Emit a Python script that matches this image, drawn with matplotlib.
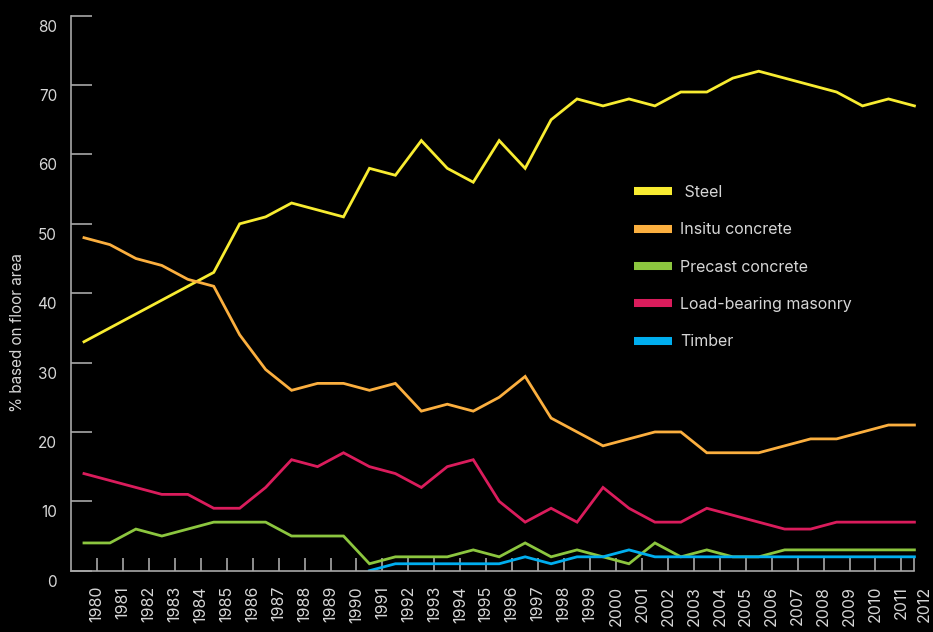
import matplotlib

matplotlib.use("Agg")
import matplotlib.pyplot as plt
import numpy as np
from matplotlib.lines import Line2D
from matplotlib.transforms import ScaledTranslation

years = list(range(1980, 2013))

steel = [33, 35, 37, 39, 41, 43, 50, 51, 53, 52, 51, 58, 57, 62, 58, 56, 62, 58,
         65, 68, 67, 68, 67, 69, 69, 71, 72, 71, 70, 69, 67, 68, 67]
insitu = [48, 47, 45, 44, 42, 41, 34, 29, 26, 27, 27, 26, 27, 23, 24, 23, 25, 28,
          22, 20, 18, 19, 20, 20, 17, 17, 17, 18, 19, 19, 20, 21, 21]
precast = [4, 4, 6, 5, 6, 7, 7, 7, 5, 5, 5, 1, 2, 2, 2, 3, 2, 4,
           2, 3, 2, 1, 4, 2, 3, 2, 2, 3, 3, 3, 3, 3, 3]
masonry = [14, 13, 12, 11, 11, 9, 9, 12, 16, 15, 17, 15, 14, 12, 15, 16, 10, 7,
           9, 7, 12, 9, 7, 7, 9, 8, 7, 6, 6, 7, 7, 7, 7]
timber = [None] * 11 + [0, 1, 1, 1, 1, 1, 2, 1, 2, 2, 3, 2,
                        2, 2, 2, 2, 2, 2, 2, 2, 2, 2]

series_names = [" Steel", "Insitu concrete", "Precast concrete", "Load-bearing masonry", "Timber"]
series_colors = ["#F8EC31", "#FBAF3F", "#8CC63F", "#DA1C5C", "#00AEEF"]

TEXT = "#D6D6D6"
AXIS = "#A8A8A8"
FONT = "Inter"

fig = plt.figure(figsize=(9.33, 6.32), dpi=100, facecolor="black")
ax = fig.add_axes([71 / 933, 61.3 / 632, 856.4 / 933, 555 / 632])
ax.set_facecolor("black")

x = np.arange(len(years))
all_series = [steel, insitu, precast, masonry, timber]
for values, color in zip(all_series, series_colors):
    y = np.array([np.nan if v is None else v for v in values], dtype=float)
    ax.plot(x, y, color=color, lw=2.0, solid_joinstyle="miter")

ax.set_xlim(-0.5, 32.5)
ax.set_ylim(0, 80)

for side in ["top", "right"]:
    ax.spines[side].set_visible(False)
for side in ["left", "bottom"]:
    ax.spines[side].set_color(AXIS)
    ax.spines[side].set_linewidth(1.2)
ax.spines["bottom"].set_bounds(-0.5, 32)

# y ticks point inward, labels sit a bit below the tick
ax.set_yticks(range(0, 81, 10))
ax.tick_params(axis="y", direction="in", length=15, width=1.2, color=AXIS,
               labelcolor=TEXT, labelsize=11, pad=10)
for label in ax.get_yticklabels():
    label.set_fontfamily(FONT)
    label.set_transform(label.get_transform() + ScaledTranslation(0, -10 / 100, fig.dpi_scale_trans))

# x ticks sit between the data points; last one marks the axis end
xticks = [i + 0.5 for i in range(len(years) - 1)] + [32]
xlabels = [str(yr) for yr in years[:-1]] + [""]
ax.set_xticks(xticks, labels=xlabels)
ax.tick_params(axis="x", direction="in", length=9.5, width=1.2, color=AXIS,
               labelcolor=TEXT, labelsize=11.5, pad=11, labelrotation=90)
for label in ax.get_xticklabels():
    label.set_fontfamily(FONT)
last = ax.text(32.38, 0, str(years[-1]), rotation=90, ha="center", va="top", color=TEXT,
               fontsize=11.5, family=FONT, clip_on=False)
last.set_transform(ax.get_xaxis_transform() + ScaledTranslation(0, -15.3 / 100, fig.dpi_scale_trans))

fig.text(18 / 933, 1 - 333 / 632, "% based on floor area", rotation=90, ha="center", va="center",
         color=TEXT, fontsize=11, family=FONT)

handles = [Line2D([], [], color=c, lw=5.8, solid_capstyle="butt") for c in series_colors]
leg = ax.legend(handles, series_names, loc="upper left",
                bbox_to_anchor=(634 / 933, 1 - 185 / 632), bbox_transform=fig.transFigure,
                frameon=False, borderpad=0, borderaxespad=0, handlelength=2.4,
                handletextpad=0.5, labelspacing=1.4, prop={"family": FONT, "size": 11.5})
for text in leg.get_texts():
    text.set_color(TEXT)

fig.savefig("out.png", dpi=100, facecolor="black")
